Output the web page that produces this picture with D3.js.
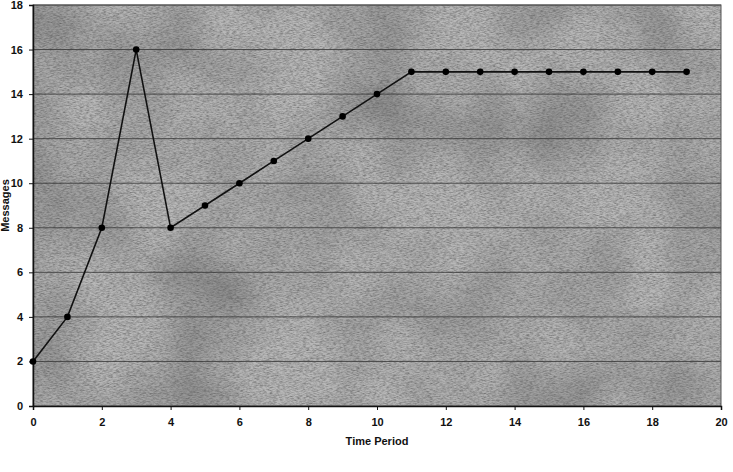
<!DOCTYPE html>
<html>
<head>
<meta charset="utf-8">
<script src="https://cdn.jsdelivr.net/npm/d3@7"></script>
<style>
  body { margin: 0; background: #fff; }
  text { font-family: "Liberation Sans", Arial, sans-serif; font-weight: bold; }
</style>
</head>
<body>
<div id="chart"></div>
<script>
// data
const periods = [0, 1, 2, 3, 4, 5, 6, 7, 8, 9, 10, 11, 12, 13, 14, 15, 16, 17, 18, 19];
const messages = [2, 4, 8, 16, 8, 9, 10, 11, 12, 13, 14, 15, 15, 15, 15, 15, 15, 15, 15, 15];
const xTicks = [0, 2, 4, 6, 8, 10, 12, 14, 16, 18, 20];
const yTicks = [0, 2, 4, 6, 8, 10, 12, 14, 16, 18];

const W = 733, H = 472;
const m = { top: 5, right: 12, bottom: 66, left: 33 };

const svg = d3.select("#chart").append("svg")
    .attr("width", W).attr("height", H);

const x = d3.scaleLinear().domain([0, 20]).range([m.left, W - m.right]);
const y = d3.scaleLinear().domain([0, 18]).range([H - m.bottom, m.top]);

// grainy scan look: fine horizontal streaks + blotchy low-freq shading
const defs = svg.append("defs");
const f = defs.append("filter").attr("id", "grain")
    .attr("x", 0).attr("y", 0).attr("width", 1).attr("height", 1);
f.append("feTurbulence")
    .attr("type", "fractalNoise")
    .attr("baseFrequency", "0.3 1.4")
    .attr("numOctaves", 2)
    .attr("seed", 4)
    .attr("result", "noise");
f.append("feColorMatrix")
    .attr("in", "noise")
    .attr("type", "matrix")
    .attr("values", "0 0 0 0 0.1  0 0 0 0 0.1  0 0 0 0 0.1  0 0 0 -1.4 0.95")
    .attr("result", "dark");
f.append("feTurbulence")
    .attr("type", "fractalNoise")
    .attr("baseFrequency", "0.012")
    .attr("numOctaves", 2)
    .attr("seed", 9)
    .attr("result", "blot");
f.append("feColorMatrix")
    .attr("in", "blot")
    .attr("type", "matrix")
    .attr("values", "0 0 0 0 0.05  0 0 0 0 0.05  0 0 0 0 0.05  0 0 0 -0.9 0.6")
    .attr("result", "blotDark");
f.append("feMerge").call(mg => {
    mg.append("feMergeNode").attr("in", "SourceGraphic");
    mg.append("feMergeNode").attr("in", "blotDark");
    mg.append("feMergeNode").attr("in", "dark");
});

svg.append("rect")
    .attr("x", x(0)).attr("y", y(18))
    .attr("width", x(20) - x(0)).attr("height", y(0) - y(18))
    .attr("fill", "#b8b8b8")
    .attr("filter", "url(#grain)");

// gridlines
svg.append("g")
    .selectAll("line")
    .data(yTicks.filter(d => d > 0))
    .join("line")
    .attr("x1", x(0)).attr("x2", x(20))
    .attr("y1", d => y(d)).attr("y2", d => y(d))
    .attr("stroke", "#333")
    .attr("stroke-width", 1)
    .attr("opacity", 0.8);

// plot border
svg.append("rect")
    .attr("x", x(0)).attr("y", y(18))
    .attr("width", x(20) - x(0)).attr("height", y(0) - y(18))
    .attr("fill", "none")
    .attr("stroke", "#555")
    .attr("stroke-width", 1);

// axes
const xAxis = svg.append("g")
    .attr("transform", `translate(0,${y(0)})`)
    .call(d3.axisBottom(x).tickValues(xTicks).tickSize(4).tickPadding(8).tickFormat(d3.format("d")));
const yAxis = svg.append("g")
    .attr("transform", `translate(${x(0)},0)`)
    .call(d3.axisLeft(y).tickValues(yTicks).tickSize(4).tickPadding(6).tickFormat(d3.format("d")));

[xAxis, yAxis].forEach(a => {
    a.select(".domain").attr("stroke", "#111").attr("stroke-width", 1.5);
    a.selectAll(".tick line").attr("stroke", "#111");
    a.selectAll(".tick text").attr("fill", "#111").style("font-size", "11px").style("font-weight", "bold");
});

// line + markers
const pts = periods.map((p, i) => [p, messages[i]]);
svg.append("path")
    .datum(pts)
    .attr("fill", "none")
    .attr("stroke", "#111")
    .attr("stroke-width", 1.6)
    .attr("d", d3.line().x(d => x(d[0])).y(d => y(d[1])));

svg.append("g")
    .selectAll("circle")
    .data(pts)
    .join("circle")
    .attr("cx", d => x(d[0]))
    .attr("cy", d => y(d[1]))
    .attr("r", 3.3)
    .attr("fill", "#000");

// axis titles
svg.append("text")
    .attr("x", (x(0) + x(20)) / 2)
    .attr("y", 445)
    .attr("text-anchor", "middle")
    .style("font-size", "11px")
    .attr("fill", "#111")
    .text("Time Period");

svg.append("text")
    .attr("transform", `translate(9,${(y(0) + y(18)) / 2}) rotate(-90)`)
    .attr("text-anchor", "middle")
    .style("font-size", "11px")
    .attr("fill", "#111")
    .text("Messages");
</script>
</body>
</html>
